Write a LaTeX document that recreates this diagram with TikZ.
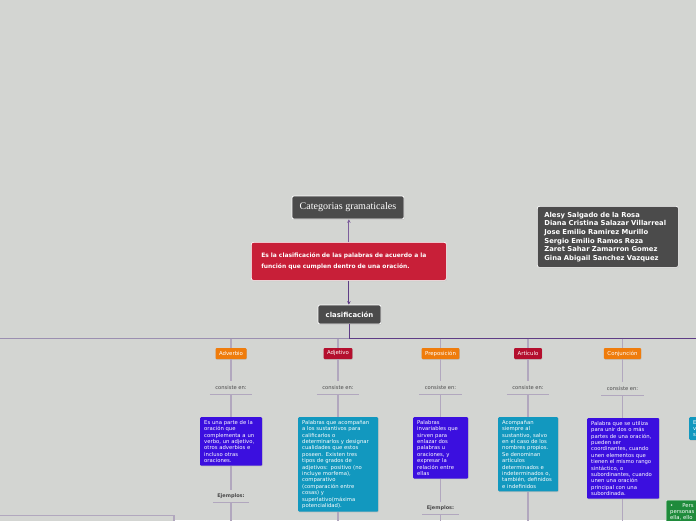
\documentclass[tikz,border=0pt]{standalone}
\usepackage{fontspec}
\setmainfont{DejaVu Sans}
\newfontfamily\titlefont{Liberation Serif}
\usetikzlibrary{arrows.meta,shadows}
\definecolor{bgpaper}{HTML}{D3D5D2}
\definecolor{boxgray}{HTML}{4B4B4B}
\definecolor{redbox}{HTML}{C81F38}
\definecolor{orangetag}{HTML}{EF7C0C}
\definecolor{crimsontag}{HTML}{B40F2E}
\definecolor{violetbox}{HTML}{3B0FDF}
\definecolor{tealbox}{HTML}{1298BF}
\definecolor{greenbox}{HTML}{1F8B3B}
\definecolor{linelight}{HTML}{B1A7BE}
\definecolor{busline}{HTML}{9B8FB1}
\definecolor{darkline}{HTML}{5E3C86}
\definecolor{arrowline}{HTML}{7D5E9C}
\definecolor{textgray}{HTML}{4A4A4A}

\begin{document}
\begin{tikzpicture}[x=1pt,y=-1pt,
    darkbox/.style={draw=white,line width=0.7pt,fill=boxgray,rounded corners=2pt,text=white,
      drop shadow={shadow xshift=0.6pt,shadow yshift=-0.8pt,opacity=0.25}},
    tag/.style={fill=#1,rounded corners=1pt,minimum height=11pt,inner xsep=3.5pt,inner ysep=0pt,
      font=\fontsize{5.4}{6}\selectfont,text=white,
      drop shadow={shadow xshift=0.4pt,shadow yshift=-0.7pt,opacity=0.3}},
    infobox/.style={fill=#1,anchor=north west,align=left,rounded corners=1pt,inner xsep=4pt,inner ysep=3pt,
      font=\fontsize{5.3}{6.4}\selectfont,text=white,
      drop shadow={shadow xshift=0.5pt,shadow yshift=-0.7pt,opacity=0.25}},
    caption/.style={text=textgray,minimum height=13pt,inner sep=0pt,font=\fontsize{5.2}{6}\selectfont},
    ejemplo/.style={caption,minimum height=12pt,minimum width=36pt,font=\bfseries\fontsize{5}{6}\selectfont},
    underline/.style={draw=linelight,line width=1.4pt},
    branch/.style={draw=linelight,line width=1.3pt},
  ]
  \useasboundingbox (0,0) rectangle (696,520);
  \fill[bgpaper] (0,0) rectangle (696,520);
  \clip (0,0) rectangle (696,520);

  % top of the map
  \node[darkbox,minimum width=112pt,minimum height=23pt,font=\titlefont\fontsize{10.1}{11}\selectfont] (titulo) at (348,207.5) {Categorias gramaticales};
  \node[fill=redbox,draw=white,line width=0.7pt,rounded corners=2pt,anchor=north west,text width=175pt,minimum height=38pt,
    inner xsep=10pt,align=left,text=white,font=\bfseries\fontsize{5.95}{11}\selectfont,
    drop shadow={shadow xshift=0.6pt,shadow yshift=-0.8pt,opacity=0.25}] (definicion) at (251,242)
    {Es la clasificación de las palabras de acuerdo a la\\función que cumplen dentro de una oración.};
  \node[darkbox,minimum width=63pt,minimum height=19pt,font=\bfseries\fontsize{6.9}{8}\selectfont] (clasif) at (349.5,314.5) {clasificación};
  \node[darkbox,anchor=north west,text width=127pt,minimum height=61pt,inner xsep=7pt,align=left,
    font=\bfseries\fontsize{6.8}{8.6}\selectfont] (autores) at (537,206)
    {Alesy Salgado de la Rosa\\Diana Cristina Salazar Villarreal\\Jose Emilio Ramirez Murillo\\Sergio Emilio Ramos Reza\\Zaret Sahar Zamarron Gomez\\Gina Abigail Sanchez Vazquez};

  \draw[arrowline,line width=1.2pt,-{Stealth[length=3.5pt,width=3.5pt]}] (definicion.north) -- (definicion.north |- titulo.south);
  \draw[darkline,line width=1.2pt,-{Stealth[length=3.5pt,width=3.5pt]}] (definicion.south) -- (definicion.south |- clasif.north);

  % main line
  \coordinate (busW) at (0,338.5);
  \coordinate (busE) at (700,338.5);
  \draw[busline,line width=1.3pt] (busW) -- (busE);
  \draw[darkline,line width=1.3pt] (clasif.south) |- (busE);

  % Adverbio
  \node[tag=orangetag] (adverbio) at (231,353.5) {Adverbio};
  \node[caption,minimum width=42pt] (consAdv) at (231,387.5) {consiste en:};
  \node[infobox=violetbox,text width=54pt] (boxAdv) at (200,417)
    {Es una parte de la\\oración que\\complementa a un\\verbo, un adjetivo,\\otros adverbios e\\incluso otras\\oraciones.};
  \node[ejemplo] (ejAdv) at (231,496) {Ejemplos:};
  \coordinate (endAdv) at (231,525);
  \draw[branch] (adverbio.north |- busW) -- (adverbio.north);
  \draw[branch] (adverbio.south) -- (consAdv.north);
  \draw[underline] (consAdv.south west) -- (consAdv.south east);
  \draw[branch] (consAdv.south) -- (consAdv.south |- boxAdv.north);
  \draw[branch] (boxAdv.south -| ejAdv.north) -- (ejAdv.north);
  \draw[underline] (ejAdv.south west) -- (ejAdv.south east);
  \draw[branch] (ejAdv.south) -- (endAdv);

  % Adjetivo
  \node[tag=crimsontag] (adjetivo) at (338,353.5) {Adjetivo};
  \node[caption,minimum width=42pt] (consAdj) at (338,387.5) {consiste en:};
  \node[infobox=tealbox,text width=72pt] (boxAdj) at (298,417)
    {Palabras que acompañan\\a los sustantivos para\\calificarlos o\\determinarlos y designar\\cualidades que estos\\poseen. Existen tres\\tipos de grados de\\adjetivos: positivo (no\\incluye morfema),\\comparativo\\(comparación entre\\cosas) y\\superlativo(máxima\\potencialidad).};
  \coordinate (endAdj) at (338,525);
  \draw[branch] (adjetivo.north |- busW) -- (adjetivo.north);
  \draw[branch] (adjetivo.south) -- (consAdj.north);
  \draw[underline] (consAdj.south west) -- (consAdj.south east);
  \draw[branch] (consAdj.south) -- (consAdj.south |- boxAdj.north);
  \draw[branch] (boxAdj.south -| endAdj) -- (endAdj);

  % Preposicion
  \node[tag=orangetag] (preposicion) at (440.5,353.5) {Preposición};
  \node[caption,minimum width=42pt] (consPre) at (440.5,387.5) {consiste en:};
  \node[infobox=violetbox,text width=47pt] (boxPre) at (413,417)
    {Palabras\\invariables que\\sirven para\\enlazar dos\\palabras u\\oraciones, y\\expresar la\\relación entre\\ellas};
  \node[ejemplo] (ejPre) at (440.5,508) {Ejemplos:};
  \coordinate (endPre) at (440.5,525);
  \draw[branch] (preposicion.north |- busW) -- (preposicion.north);
  \draw[branch] (preposicion.south) -- (consPre.north);
  \draw[underline] (consPre.south west) -- (consPre.south east);
  \draw[branch] (consPre.south) -- (consPre.south |- boxPre.north);
  \draw[branch] (boxPre.south -| ejPre.north) -- (ejPre.north);
  \draw[underline] (ejPre.south west) -- (ejPre.south east);
  \draw[branch] (ejPre.south) -- (endPre);

  % Articulo
  \node[tag=crimsontag] (articulo) at (528,353.5) {Artículo};
  \node[caption,minimum width=42pt] (consArt) at (528,387.5) {consiste en:};
  \node[infobox=tealbox,text width=52pt] (boxArt) at (498,417)
    {Acompañan\\siempre al\\sustantivo, salvo\\en el caso de los\\nombres propios.\\Se denominan\\artículos\\determinados e\\indeterminados o,\\también, definidos\\e indefinidos};
  \coordinate (endArt) at (528,525);
  \draw[branch] (articulo.north |- busW) -- (articulo.north);
  \draw[branch] (articulo.south) -- (consArt.north);
  \draw[underline] (consArt.south west) -- (consArt.south east);
  \draw[branch] (consArt.south) -- (consArt.south |- boxArt.north);
  \draw[branch] (boxArt.south -| endArt) -- (endArt);

  % Conjuncion
  \node[tag=orangetag] (conjuncion) at (622.5,353.5) {Conjunción};
  \node[caption,minimum width=42pt] (consCon) at (622.5,389) {consiste en:};
  \node[infobox=violetbox,text width=64pt] (boxCon) at (587,418)
    {Palabra que se utiliza\\para unir dos o más\\partes de una oración,\\pueden ser\\coordinantes, cuando\\unen elementos que\\tienen el mismo rango\\sintáctico, o\\subordinantes, cuando\\unen una oración\\principal con una\\subordinada.};
  \coordinate (endCon) at (622.5,525);
  \draw[branch] (conjuncion.north |- busW) -- (conjuncion.north);
  \draw[branch] (conjuncion.south) -- (consCon.north);
  \draw[underline] (consCon.south west) -- (consCon.south east);
  \draw[branch] (consCon.south) -- (consCon.south |- boxCon.north);
  \draw[branch] (boxCon.south -| endCon) -- (endCon);

  % boxes cut by the edges
  \node[infobox=tealbox,text width=30pt] (boxExtra) at (689,417) {E\\v\\s};
  \node[infobox=greenbox,draw=white,line width=0.4pt,text width=40pt] (boxVer) at (666,500)
    {\textbullet\hspace{9pt}Pers\\personas\\ella, ello};
  \node[draw=linelight,line width=1.2pt,fill=bgpaper,anchor=north east,minimum width=200pt,minimum height=20pt] (boxIzq) at (174.5,515) {};
\end{tikzpicture}
\end{document}
